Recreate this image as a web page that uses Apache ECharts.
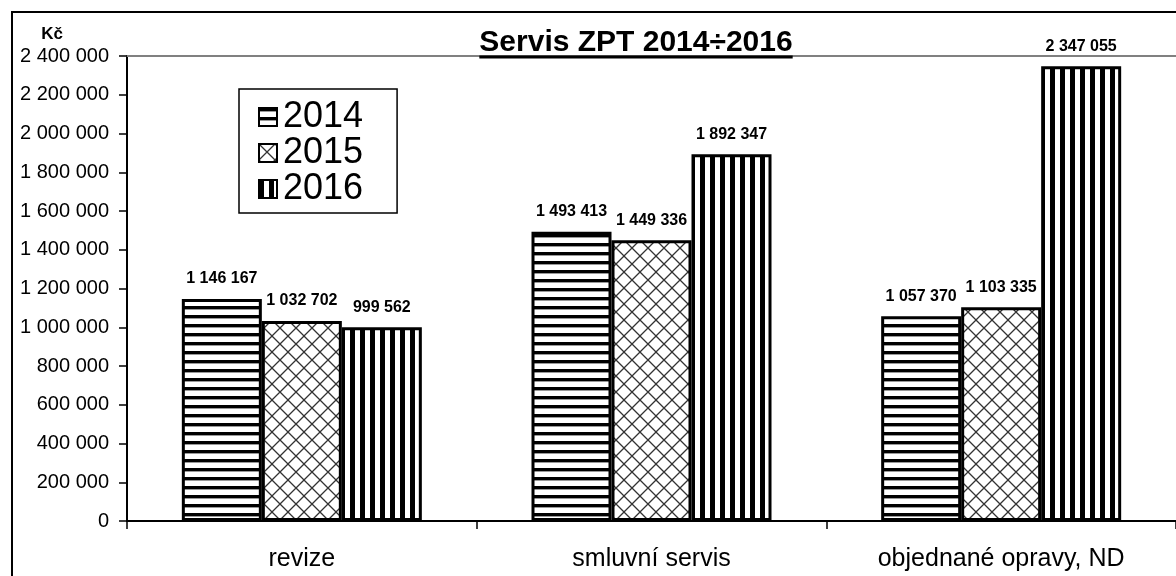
<!DOCTYPE html>
<html>
<head>
<meta charset="utf-8">
<script src="https://cdn.jsdelivr.net/npm/echarts@6/dist/echarts.min.js"></script>
<style>
html, body { margin: 0; padding: 0; background: #fff; }
#chart { width: 1176px; height: 576px; }
</style>
</head>
<body>
<div id="chart"></div>
<script>
// data
var categories = ['revize', 'smluvní servis', 'objednané opravy, ND']
var years = ['2014', '2015', '2016']
var values2014 = [1146167, 1493413, 1057370]
var values2015 = [1032702, 1449336, 1103335]
var values2016 = [999562, 1892347, 2347055]
var yTicks = { min: 0, max: 2400000, step: 200000 }

var FONT = 'Liberation Sans, Arial, sans-serif'

function fmt(v) {
  return String(v).replace(/\B(?=(\d{3})+(?!\d))/g, ' ')
}

// fill patterns like the old excel ones
function makePattern(kind) {
  var c = document.createElement('canvas')
  var ctx
  if (kind === 'h') {
    c.width = 8; c.height = 9
    ctx = c.getContext('2d')
    ctx.fillStyle = '#fff'; ctx.fillRect(0, 0, 8, 9)
    ctx.fillStyle = '#000'; ctx.fillRect(0, 0, 8, 3)
    ctx.fillStyle = '#999'; ctx.fillRect(0, 3, 8, 1)
  } else if (kind === 'v') {
    c.width = 10; c.height = 8
    ctx = c.getContext('2d')
    ctx.fillStyle = '#fff'; ctx.fillRect(0, 0, 10, 8)
    ctx.fillStyle = '#000'; ctx.fillRect(0, 0, 5, 8)
  } else {
    c.width = 16; c.height = 16
    ctx = c.getContext('2d')
    ctx.fillStyle = '#fff'; ctx.fillRect(0, 0, 16, 16)
    ctx.strokeStyle = '#333'; ctx.lineWidth = 1.3
    ctx.beginPath()
    ctx.moveTo(0, 0); ctx.lineTo(16, 16)
    ctx.moveTo(16, 0); ctx.lineTo(0, 16)
    ctx.stroke()
  }
  return { image: c, repeat: 'repeat' }
}

var titleText = 'Servis ZPT 2014÷2016'
var titleFont = 'bold 30px ' + FONT
var mc = document.createElement('canvas').getContext('2d')
mc.font = titleFont
var titleW = mc.measureText(titleText).width
var titleX = 636

function barSeries(name, data, kind) {
  return {
    name: name,
    type: 'bar',
    data: data,
    barWidth: 80,
    barGap: '0%',
    itemStyle: {
      color: makePattern(kind),
      borderColor: '#000',
      borderWidth: 3
    },
    label: {
      show: true,
      position: 'top',
      distance: 12,
      color: '#000',
      fontFamily: FONT,
      fontWeight: 'bold',
      fontSize: 16,
      formatter: function (p) { return fmt(p.value) }
    }
  }
}

var chart = echarts.init(document.getElementById('chart'), null, { renderer: 'canvas' })
chart.setOption({
  backgroundColor: '#fff',
  animation: false,
  textStyle: { fontFamily: FONT },
  grid: { left: 127, right: -4, top: 56, bottom: 55 },
  legend: {
    data: years,
    orient: 'vertical',
    left: 239,
    top: 89,
    icon: 'rect',
    itemWidth: 18,
    itemHeight: 18,
    itemGap: 0,
    padding: [10, 34, 6, 19],
    borderColor: '#000',
    borderWidth: 1.5,
    textStyle: { fontSize: 36, lineHeight: 35, color: '#000', fontFamily: FONT, padding: [0, 0, 0, 1] }
  },
  xAxis: [{
    type: 'category',
    data: categories,
    axisLine: { lineStyle: { color: '#000', width: 2 } },
    axisTick: { show: true, length: 8, lineStyle: { color: '#000', width: 1.5 } },
    axisLabel: { color: '#000', fontSize: 25, margin: 26, fontFamily: FONT },
    splitLine: { show: false }
  }, {
    type: 'category',
    data: categories,
    position: 'top',
    axisLine: { lineStyle: { color: '#808080', width: 2 } },
    axisTick: { show: false },
    axisLabel: { show: false }
  }],
  yAxis: {
    type: 'value',
    min: yTicks.min,
    max: yTicks.max,
    interval: yTicks.step,
    axisLine: { show: true, lineStyle: { color: '#000', width: 2 } },
    axisTick: { show: true, length: 8, lineStyle: { color: '#000', width: 1.5 } },
    axisLabel: { color: '#000', fontSize: 20, margin: 18, fontFamily: FONT, formatter: fmt },
    splitLine: { show: false }
  },
  series: [
    barSeries(years[0], values2014, 'h'),
    barSeries(years[1], values2015, 'x'),
    barSeries(years[2], values2016, 'v')
  ],
  graphic: [
    {
      type: 'rect',
      shape: { x: 12, y: 12, width: 1200, height: 600 },
      style: { fill: null, stroke: '#000', lineWidth: 2 },
      silent: true
    },
    {
      type: 'text',
      x: titleX,
      y: 43,
      style: {
        text: titleText,
        font: titleFont,
        fill: '#000',
        textAlign: 'center',
        textVerticalAlign: 'middle'
      }
    },
    {
      type: 'line',
      z: 10,
      shape: { x1: titleX - titleW / 2, y1: 57, x2: titleX + titleW / 2, y2: 57 },
      style: { stroke: '#000', lineWidth: 3 }
    },
    {
      type: 'text',
      x: 52,
      y: 34,
      style: {
        text: 'Kč',
        font: 'bold 17px ' + FONT,
        fill: '#000',
        textAlign: 'center',
        textVerticalAlign: 'middle'
      }
    }
  ]
})
</script>
</body>
</html>
